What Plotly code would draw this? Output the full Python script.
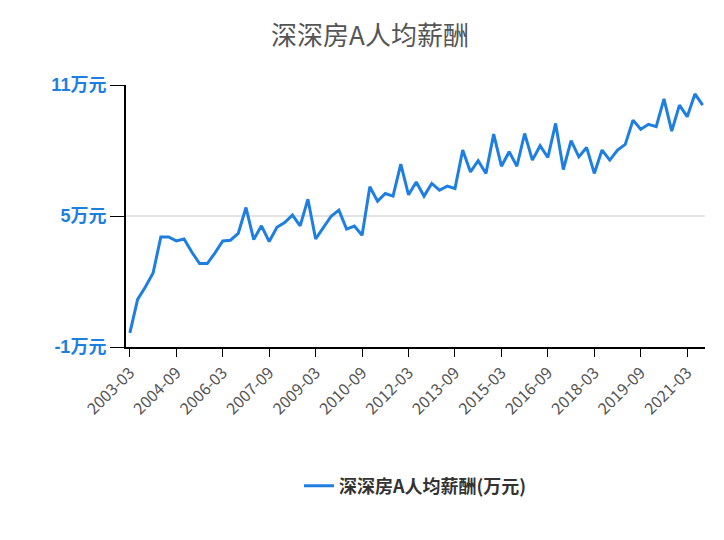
import plotly.graph_objects as go

values = [-0.35,1.18,1.75,2.39,4.04,4.04,3.86,3.95,3.35,2.82,2.82,3.31,3.86,3.89,4.20,5.39,3.92,4.55,3.83,4.48,
          4.70,5.04,4.55,5.77,3.95,4.48,4.99,5.27,4.40,4.54,4.12,6.34,5.68,6.03,5.91,7.38,5.97,6.56,
          5.91,6.49,6.18,6.37,6.26,8.02,7.02,7.53,6.95,8.75,7.28,7.94,7.28,8.78,7.56,8.22,7.68,9.24,7.13,8.45,
          7.71,8.14,6.95,8.02,7.56,8.02,8.28,9.39,8.97,9.20,9.09,10.36,8.89,10.08,9.55,10.59,10.08]
dates = []
y, m = 2003, 3
for _ in values:
    dates.append(f"{y}-{m:02d}")
    m += 3
    if m > 12:
        m -= 12; y += 1
tickdates = dates[::6]
ytick_vals = [-1, 5, 11]
ytick_text = ["<b>-1万元</b>", "<b>5万元</b>", "<b>11万元</b>"]

fig = go.Figure(go.Scatter(x=dates, y=values, mode="lines", name="<b>深深房A人均薪酬(万元)</b>",
                           line=dict(color="#1f7fe0", width=3)))
fig.update_layout(
    width=724, height=540, paper_bgcolor="white", plot_bgcolor="white",
    title=dict(text="深深房A人均薪酬", x=0.5, y=0.965, yanchor="top", font=dict(size=26, color="#555", family="Noto Sans CJK SC")),
    margin=dict(l=118, r=27, t=77, b=201),
    font=dict(family="Noto Sans CJK SC"),
    showlegend=True,
    legend=dict(orientation="h", x=0.5, xanchor="center", y=-0.46, yanchor="top", font=dict(size=18, color="#333")),
)
fig.update_xaxes(type="category", tickmode="array", tickvals=tickdates, ticktext=tickdates, tickangle=-45,
                 showline=True, linecolor="black", linewidth=2, ticks="outside", ticklen=8, tickcolor="black",
                 tickfont=dict(size=16, color="#555"), showgrid=False, range=[-0.5, len(dates)-0.7])
fig.update_yaxes(range=[-1, 11], tickvals=ytick_vals, ticktext=ytick_text, showline=True, linecolor="black",
                 linewidth=2, ticks="outside", ticklen=14, tickcolor="black", gridcolor="#e3e3e3", gridwidth=2,
                 tickfont=dict(size=18, color="#1f7fe0", family="Liberation Sans, Noto Sans CJK SC"), zeroline=False)
fig.write_html("out.html")
